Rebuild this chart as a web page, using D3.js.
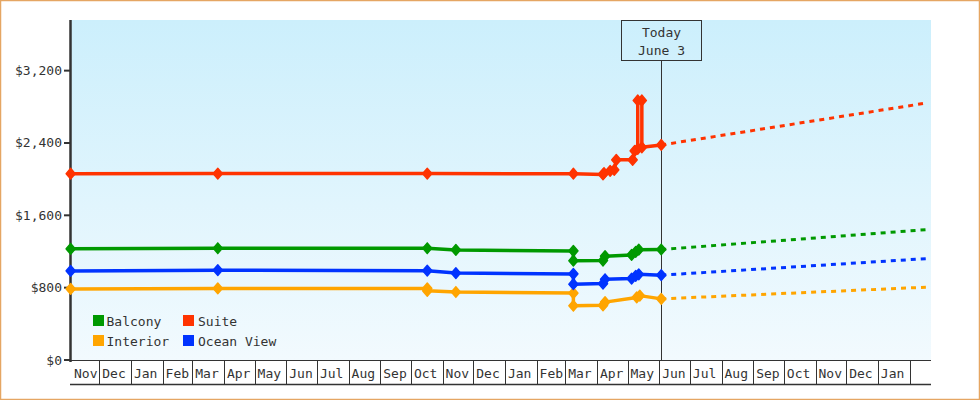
<!DOCTYPE html>
<html>
<head>
<meta charset="utf-8">
<script src="https://cdn.jsdelivr.net/npm/d3@7"></script>
<style>
  html, body { margin: 0; padding: 0; background: #fff; }
  svg { display: block; }
  text { font-family: "DejaVu Sans Mono", monospace; font-size: 13px; fill: #333; }
</style>
</head>
<body>
<div id="chart"></div>
<script>
// price history per cabin type: [date, price]
const balcony = [["2015-11-03",1229],["2016-03-26",1236],["2016-10-17",1236],["2016-11-14",1217],["2017-03-09",1206],["2017-03-09",1098],["2017-04-07",1100],["2017-04-09",1148],["2017-05-05",1162],["2017-05-09",1195],["2017-05-12",1220],["2017-06-03",1222]];
const suite = [["2015-11-03",2060],["2016-03-26",2062],["2016-10-17",2062],["2017-03-09",2060],["2017-04-07",2052],["2017-04-08",2068],["2017-04-14",2092],["2017-04-18",2103],["2017-04-20",2214],["2017-05-06",2214],["2017-05-08",2313],["2017-05-11",2335],["2017-05-11",2870],["2017-05-15",2870],["2017-05-15",2352],["2017-06-03",2378]];
const interior = [["2015-11-03",786],["2016-03-26",792],["2016-10-17",792],["2016-10-17",765],["2016-11-14",752],["2017-03-09",740],["2017-03-09",600],["2017-04-07",605],["2017-04-09",640],["2017-05-10",692],["2017-05-13",712],["2017-06-03",676]];
const oceanView = [["2015-11-03",985],["2016-03-26",993],["2016-10-17",988],["2016-11-14",961],["2017-03-09",952],["2017-03-09",838],["2017-04-07",845],["2017-04-09",893],["2017-05-05",900],["2017-05-09",930],["2017-05-12",948],["2017-06-03",938]];
// projected prices (dotted)
const forecastDates = ["2017-06-03", "2018-02-17"];
const balconyForecast = [1222, 1442];
const suiteForecast = [2378, 2841];
const interiorForecast = [676, 805];
const oceanForecast = [938, 1121];

const seriesNames = ["Balcony", "Suite", "Interior", "Ocean View"];
const seriesColors = ["#009900", "#ff3300", "#ffa500", "#0033ff"];
const yTicks = [0, 800, 1600, 2400, 3200];
const todayDate = "2017-06-03";
const todayLabel = ["Today", "June 3"];
const xStart = "2015-11-03", xEnd = "2018-02-22";

const parse = d3.timeParse("%Y-%m-%d");
const W = 980, H = 400;
const L = 71, R = 931, T = 20, B = 360;

const x = d3.scaleTime().domain([d3.timeHour.offset(parse(xStart), 8), parse(xEnd)]).range([L, R]);
const y = d3.scaleLinear().domain([0, 3760]).range([B, T]);

const svg = d3.select('#chart').append('svg').attr('width', W).attr('height', H);

// outer frame
svg.append('rect').attr('x', 0.5).attr('y', 0.5).attr('width', W - 1).attr('height', H - 1)
  .attr('fill', '#fff').attr('stroke', '#e5a663').attr('stroke-width', 1.5);

const grad = svg.append('defs').append('linearGradient').attr('id', 'bg').attr('x1', 0).attr('y1', 0).attr('x2', 0).attr('y2', 1);
grad.append('stop').attr('offset', '0%').attr('stop-color', '#cceffc');
grad.append('stop').attr('offset', '100%').attr('stop-color', '#f2fafe');
svg.append('rect').attr('x', L).attr('y', T).attr('width', R - L).attr('height', B - T).attr('fill', 'url(#bg)');

// y axis
const yAxis = svg.append('g');
yAxis.append('line').attr('x1', 70.5).attr('x2', 70.5).attr('y1', T).attr('y2', B + 2)
  .attr('stroke', '#333').attr('stroke-width', 2.5);
yAxis.selectAll('line.tick').data(yTicks).join('line').attr('class', 'tick')
  .attr('x1', 64).attr('x2', 70).attr('y1', d => y(d)).attr('y2', d => y(d))
  .attr('stroke', '#333').attr('stroke-width', 2);
yAxis.selectAll('text').data(yTicks).join('text')
  .attr('x', 62).attr('y', d => y(d) + 4.5).attr('text-anchor', 'end')
  .text(d => '$' + d3.format(',')(d));

// month strip under the plot
const months = d3.timeMonth.range(d3.timeMonth.ceil(x.domain()[0]), x.domain()[1]);
const xAxis = svg.append('g');
xAxis.append('line').attr('x1', L - 1).attr('x2', R).attr('y1', B + 0.5).attr('y2', B + 0.5).attr('stroke', '#333').attr('stroke-width', 1);
xAxis.append('line').attr('x1', L - 1).attr('x2', R).attr('y1', 384.5).attr('y2', 384.5).attr('stroke', '#333').attr('stroke-width', 1.5);
xAxis.selectAll('line.sep').data(months).join('line').attr('class', 'sep')
  .attr('x1', d => Math.round(x(d)) + 0.5).attr('x2', d => Math.round(x(d)) + 0.5)
  .attr('y1', B).attr('y2', 384.5).attr('stroke', '#333').attr('stroke-width', 1);
// one label per cell: the partial first month, then every full month
const cellStarts = [x.domain()[0]].concat(months.slice(0, -1));
xAxis.selectAll('text').data(cellStarts).join('text')
  .attr('x', d => x(d) + 3).attr('y', 378)
  .text(d => d3.timeFormat('%b')(d));

// today marker
const tx = Math.round(x(parse(todayDate))) + 0.5;
svg.append('line').attr('x1', tx).attr('x2', tx).attr('y1', 60.5).attr('y2', B)
  .attr('stroke', '#333').attr('stroke-width', 1);
svg.append('rect').attr('x', tx - 40).attr('y', 20.5).attr('width', 80).attr('height', 40)
  .attr('fill', 'none').attr('stroke', '#333').attr('stroke-width', 1);
svg.selectAll('text.today').data(todayLabel).join('text').attr('class', 'today')
  .attr('x', tx).attr('y', (d, i) => 37 + i * 17.5).attr('text-anchor', 'middle').text(d => d);

// series
const history = [balcony, suite, interior, oceanView];
const forecasts = [balconyForecast, suiteForecast, interiorForecast, oceanForecast];
const line = d3.line().x(d => x(parse(d[0]))).y(d => y(d[1]));
const diamond = d3.symbol().type(d3.symbolSquare).size(46);

history.forEach((pts, i) => {
  const col = seriesColors[i];
  const fpts = forecastDates.map((dt, j) => [dt, forecasts[i][j]]);
  svg.append('path').attr('d', line(fpts)).attr('fill', 'none').attr('stroke', col)
    .attr('stroke-width', 3).attr('stroke-dasharray', '5,5');
  svg.append('path').attr('d', line(pts)).attr('fill', 'none').attr('stroke', col)
    .attr('stroke-width', 3.5).attr('stroke-linejoin', 'round');
  svg.append('g').selectAll('path').data(pts).join('path')
    .attr('d', diamond)
    .attr('transform', d => `translate(${x(parse(d[0]))},${y(d[1])}) scale(0.95,1.1) rotate(45)`)
    .attr('fill', col).attr('stroke', col).attr('stroke-width', 1.5).attr('stroke-linejoin', 'round');
});

// legend
const leg = svg.append('g').selectAll('g').data(seriesNames).join('g')
  .attr('transform', (d, i) => `translate(${i % 2 ? 183 : 93},${i < 2 ? 315 : 335})`);
leg.append('rect').attr('width', 11).attr('height', 11).attr('fill', (d, i) => seriesColors[i]);
leg.append('text').attr('x', (d, i) => i % 2 ? 15 : 13.5).attr('y', 10.5).text(d => d);
</script>
</body>
</html>
